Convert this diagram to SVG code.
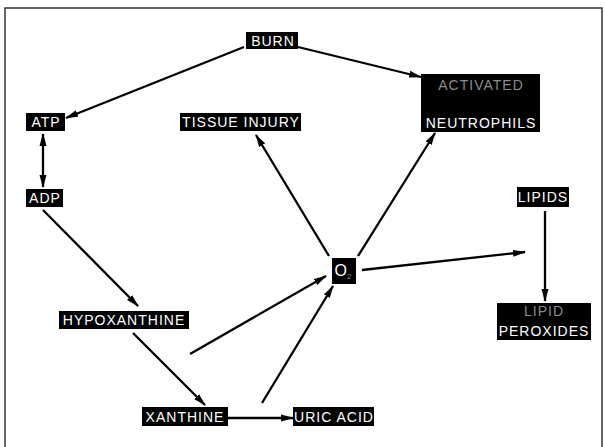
<svg xmlns="http://www.w3.org/2000/svg" width="605" height="447" viewBox="0 0 605 447">
<defs>
<style>
.box{fill:#000}
.t{font-family:"Liberation Sans",Arial,sans-serif;font-size:14px;fill:#fff;letter-spacing:1px;text-anchor:middle}
.faint{fill:#8c8c8c}
.e{stroke:#000;stroke-width:2.3;fill:none}
</style>
<marker id="ah" viewBox="0 0 13 8" refX="12" refY="4" markerWidth="13" markerHeight="8" markerUnits="userSpaceOnUse" orient="auto-start-reverse">
<path d="M0,0.5 L13,4 L0,7.5 Z" fill="#000"/>
</marker>
</defs>
<rect width="605" height="447" fill="#fff"/>
<path d="M5,450 V8 H602 V450" fill="none" stroke="#333" stroke-width="1.5"/>

<g id="connectors">
<line class="e" x1="244" y1="47" x2="66" y2="118" marker-end="url(#ah)"/>
<line class="e" x1="298" y1="47" x2="421" y2="77" marker-end="url(#ah)"/>
<line class="e" x1="43" y1="134" x2="43" y2="187" marker-start="url(#ah)" marker-end="url(#ah)"/>
<line class="e" x1="43" y1="210" x2="138" y2="306" marker-end="url(#ah)"/>
<line class="e" x1="133" y1="333" x2="205" y2="405" marker-end="url(#ah)"/>
<line class="e" x1="190" y1="354" x2="326" y2="276" marker-end="url(#ah)"/>
<line class="e" x1="262" y1="403" x2="333" y2="286" marker-end="url(#ah)"/>
<line class="e" x1="228" y1="418" x2="293" y2="418" marker-end="url(#ah)"/>
<line class="e" x1="329" y1="256" x2="256" y2="135" marker-end="url(#ah)"/>
<line class="e" x1="358" y1="256" x2="435" y2="133" marker-end="url(#ah)"/>
<line class="e" x1="362" y1="270" x2="525" y2="252" marker-end="url(#ah)"/>
<line class="e" x1="545" y1="211" x2="545" y2="301" marker-end="url(#ah)"/>
</g>

<g id="burn"><rect class="box" x="246" y="32" width="52" height="17"/><text class="t" x="273" y="46">BURN</text></g>
<g id="atp"><rect class="box" x="26" y="113" width="39" height="18"/><text class="t" x="46" y="127">ATP</text></g>
<g id="adp"><rect class="box" x="26" y="189" width="37" height="18"/><text class="t" x="45" y="203">ADP</text></g>
<g id="tissue-injury"><rect class="box" x="180" y="113" width="121" height="18"/><text class="t" x="241" y="127">TISSUE INJURY</text></g>
<g id="activated-neutrophils"><rect class="box" x="421" y="74" width="119" height="58"/><text class="t faint" x="481" y="90">ACTIVATED</text><text class="t" x="481" y="128">NEUTROPHILS</text></g>
<g id="o2"><rect class="box" x="332" y="258" width="24" height="26"/><text class="t" x="343" y="276" style="letter-spacing:0;font-size:16px">O<tspan class="faint" font-size="8" dy="3">2</tspan></text></g>
<g id="lipids"><rect class="box" x="517" y="187" width="52" height="20"/><text class="t" x="543" y="202">LIPIDS</text></g>
<g id="lipid-peroxides"><rect class="box" x="497" y="303" width="94" height="37"/><text class="t faint" x="544" y="316">LIPID</text><text class="t" x="544" y="336">PEROXIDES</text></g>
<g id="hypoxanthine"><rect class="box" x="59" y="311" width="130" height="18"/><text class="t" x="124" y="325">HYPOXANTHINE</text></g>
<g id="xanthine"><rect class="box" x="142" y="407" width="86" height="19"/><text class="t" x="185" y="422">XANTHINE</text></g>
<g id="uric-acid"><rect class="box" x="293" y="407" width="81" height="19"/><text class="t" x="334" y="422">URIC ACID</text></g>
</svg>
